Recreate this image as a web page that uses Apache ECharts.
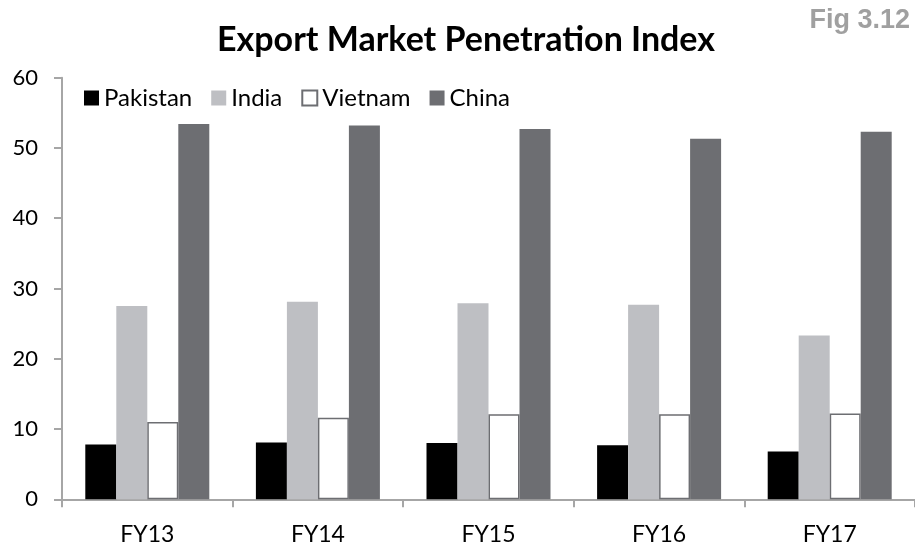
<!DOCTYPE html>
<html><head><meta charset="utf-8">
<script src="https://cdn.jsdelivr.net/npm/echarts@6/dist/echarts.min.js"></script>
<style>html,body{margin:0;padding:0;background:#fff}#c{width:915px;height:550px}</style>
</head><body><div id="c"></div>
<script>
const categories = ['FY13','FY14','FY15','FY16','FY17'];
const pakistan = [7.8, 8.1, 8.0, 7.7, 6.8];
const india = [27.5, 28.1, 27.9, 27.7, 23.3];
const vietnam = [11.0, 11.6, 12.1, 12.1, 12.2];
const china = [53.4, 53.2, 52.7, 51.3, 52.3];
const yTicks = [0, 10, 20, 30, 40, 50, 60];

const FONT = 'Lato';
const chart = echarts.init(document.getElementById('c'), null, {renderer: 'canvas'});
const barW = 31;
function s(name, data, color, border) {
  return {
    name, type: 'bar', data, barWidth: barW, barGap: '0%',
    itemStyle: border ? {color: color, borderColor: border, borderWidth: 1.5} : {color: color},
    animation: false
  };
}
chart.setOption({
  animation: false,
  title: [
    {text: 'Export Market Penetration Index', left: 461, top: 18, textAlign: 'center',
     textStyle: {fontFamily: FONT, fontWeight: 'bold', fontSize: 34, color: '#000'}},
    {text: 'Fig 3.12', right: 0, top: 2,
     textStyle: {fontFamily: 'Liberation Sans', fontWeight: 'bold', fontSize: 27, color: '#A0A0A0'}}
  ],
  legend: {
    left: 79, top: 81, itemWidth: 15, itemHeight: 15, itemGap: 19, icon: 'rect',
    textStyle: {fontFamily: FONT, fontSize: 24, color: '#000'},
    data: ['Pakistan','India','Vietnam','China']
  },
  grid: {left: 62, right: -6, top: 77.7, bottom: 50.7, containLabel: false},
  xAxis: {
    type: 'category', data: categories,
    axisLine: {lineStyle: {color: '#A6A6A6', width: 2}},
    axisTick: {show: true, length: 8, lineStyle: {color: '#A6A6A6', width: 2}},
    axisLabel: {fontFamily: FONT, fontSize: 23, color: '#000', margin: 24}
  },
  yAxis: {
    type: 'value', min: yTicks[0], max: yTicks[yTicks.length-1], interval: 10,
    splitLine: {show: false},
    axisLine: {show: true, lineStyle: {color: '#A6A6A6', width: 2}},
    axisTick: {show: true, length: 8, lineStyle: {color: '#A6A6A6', width: 2}},
    axisLabel: {fontFamily: FONT, fontSize: 22, color: '#000', margin: 24}
  },
  series: [
    s('Pakistan', pakistan, '#000000'),
    s('India', india, '#BEBFC3'),
    s('Vietnam', vietnam, '#FFFFFF', '#6D6E72'),
    s('China', china, '#6D6E72')
  ]
});
</script></body></html>
